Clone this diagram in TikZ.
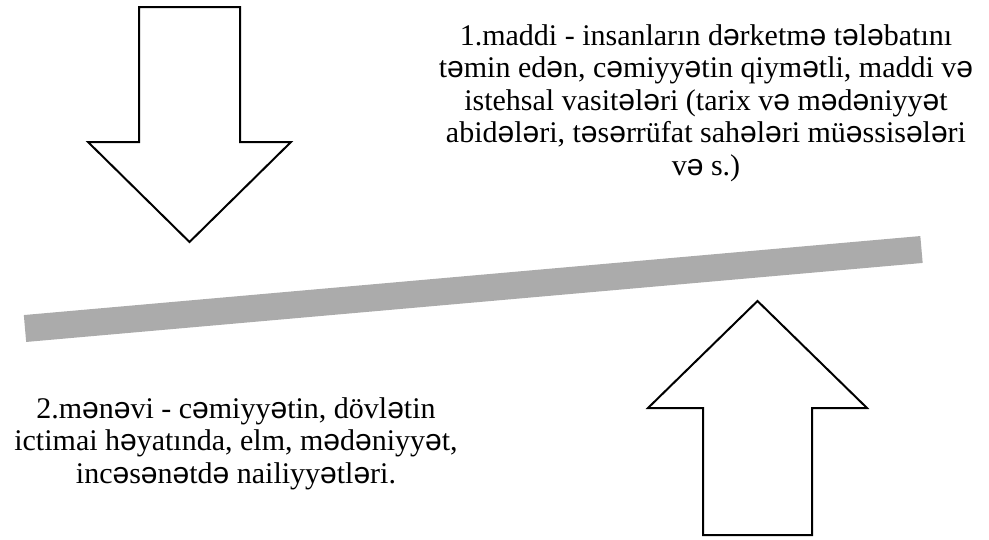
\documentclass[tikz,border=0pt]{standalone}
\usepackage{fontspec}
\setmainfont{Liberation Serif}
\newfontfamily\schwafont{Liberation Sans}
\catcode`\ə=\active
\protected\defə{{\schwafont\char"0259\relax}}
\definecolor{beamgray}{HTML}{ABABAB}
\begin{document}
\begin{tikzpicture}[x=1pt,y=-1pt,
  bigarrow/.style={draw=black, line width=2pt, fill=white, line join=miter},
  beam/.style={draw=beamgray, line width=27pt, line cap=butt},
  txt/.style={anchor=base, inner sep=0pt, font=\fontsize{30}{32.5}\selectfont}]
\useasboundingbox (0,0) rectangle (989,539);
% beam
\coordinate (bl) at (25,328.5);
\coordinate (br) at (921.5,249.5);
\draw[beam] (bl) -- (br);
% down arrow
\draw[bigarrow] (139,7) -- (240,7) -- (240,142) -- (291,142) -- (189.5,242)
  -- (88,142) -- (139,142) -- cycle;
% up arrow
\draw[bigarrow] (703,535) -- (812,535) -- (812,408) -- (867,408) -- (757.5,301)
  -- (648,408) -- (703,408) -- cycle;
% top-right text
\node[txt] (ta) at (706,45) {1.maddi - insanların dərketmə tələbatını};
\node[txt] (tb) at (706,77.5) {təmin edən, cəmiyyətin qiymətli, maddi və};
\node[txt] (tc) at (706,110) {istehsal vasitələri (tarix və mədəniyyət};
\node[txt] (td) at (706,142.5) {abidələri, təsərrüfat sahələri müəssisələri};
\node[txt] (te) at (706,175) {və s.)};
% bottom-left text
\node[txt] (ba) at (236,418) {2.mənəvi - cəmiyyətin, dövlətin};
\node[txt] (bb) at (236,450.5) {ictimai həyatında, elm, mədəniyyət,};
\node[txt] (bc) at (236,483) {incəsənətdə nailiyyətləri.};
\end{tikzpicture}
\end{document}
